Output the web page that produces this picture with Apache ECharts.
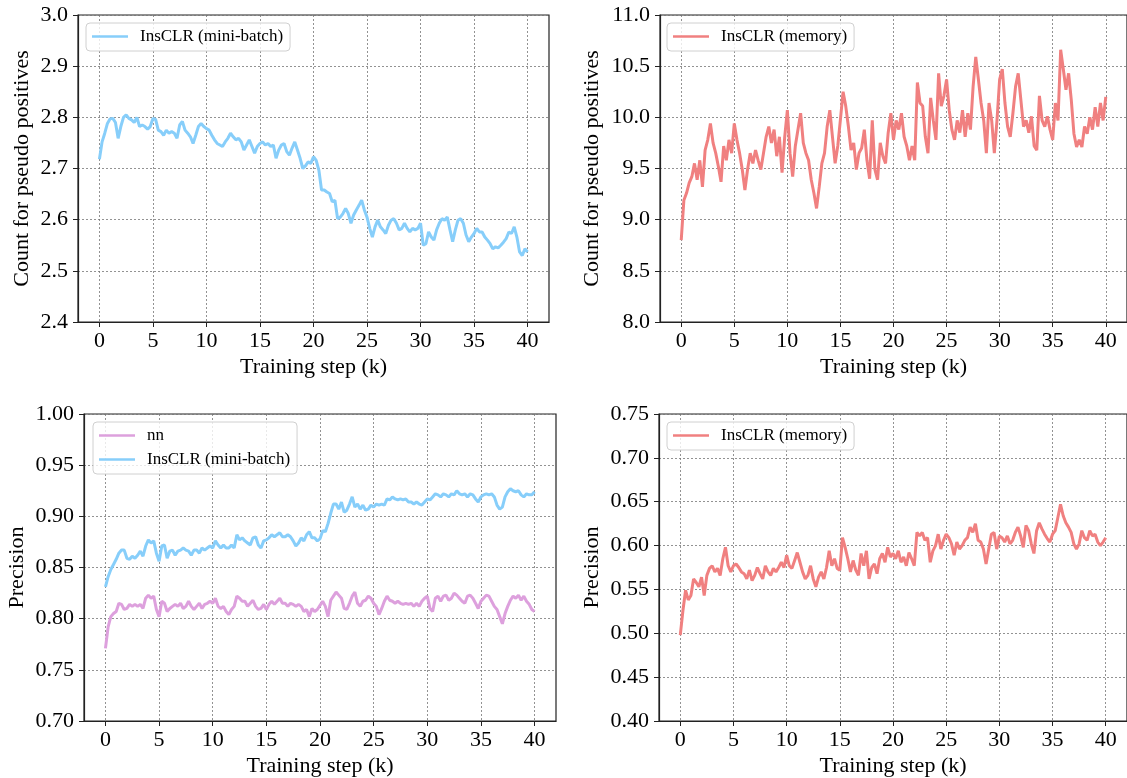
<!DOCTYPE html>
<html>
<head>
<meta charset="utf-8">
<title>InsCLR pseudo positives</title>
<style>
	body { margin: 0; background: #fff; }
	#statistics { width: 1127px; height: 778px; }
</style>
<script src="https://cdn.jsdelivr.net/npm/echarts@6.0.0/dist/echarts.min.js"></script>
</head>
<body>
<div id="statistics"></div>
<script>
	// training step grid: one reading every 0.25k, from 0 to 40k
	var stepSize = 0.25;
	var xTicks = [0, 5, 10, 15, 20, 25, 30, 35, 40];

	// top left: count for pseudo positives, mini-batch
	var countBatch = [
		2.718, 2.752, 2.769, 2.788, 2.797, 2.798, 2.790, 2.759,
		2.782, 2.800, 2.805, 2.798, 2.795, 2.790, 2.800, 2.782,
		2.785, 2.782, 2.777, 2.782, 2.798, 2.796, 2.775, 2.772,
		2.765, 2.775, 2.769, 2.772, 2.769, 2.759, 2.785, 2.792,
		2.775, 2.769, 2.762, 2.749, 2.765, 2.782, 2.788, 2.782,
		2.778, 2.775, 2.765, 2.756, 2.749, 2.746, 2.743, 2.752,
		2.759, 2.769, 2.762, 2.756, 2.759, 2.752, 2.736, 2.746,
		2.756, 2.743, 2.730, 2.743, 2.749, 2.752, 2.746, 2.749,
		2.743, 2.746, 2.720, 2.736, 2.746, 2.749, 2.733, 2.726,
		2.740, 2.752, 2.736, 2.720, 2.700, 2.705, 2.713, 2.710,
		2.723, 2.716, 2.697, 2.658, 2.658, 2.654, 2.651, 2.635,
		2.638, 2.602, 2.605, 2.612, 2.622, 2.612, 2.593, 2.609,
		2.619, 2.628, 2.638, 2.619, 2.605, 2.583, 2.566, 2.586,
		2.599, 2.586, 2.580, 2.573, 2.589, 2.599, 2.602, 2.593,
		2.580, 2.583, 2.593, 2.583, 2.576, 2.583, 2.580, 2.583,
		2.593, 2.550, 2.553, 2.576, 2.566, 2.560, 2.580, 2.593,
		2.602, 2.599, 2.605, 2.580, 2.557, 2.580, 2.599, 2.602,
		2.593, 2.570, 2.557, 2.566, 2.573, 2.583, 2.576, 2.576,
		2.566, 2.560, 2.553, 2.543, 2.547, 2.545, 2.550, 2.556,
		2.563, 2.576, 2.573, 2.586, 2.566, 2.537, 2.530, 2.543,
		2.537
	];

	// top right: count for pseudo positives, memory
	var countMemory = [
		8.80, 9.19, 9.26, 9.36, 9.42, 9.55, 9.39, 9.58,
		9.32, 9.68, 9.78, 9.94, 9.75, 9.65, 9.52, 9.37,
		9.72, 9.58, 9.78, 9.65, 9.94, 9.78, 9.65, 9.49,
		9.29, 9.49, 9.65, 9.55, 9.68, 9.58, 9.49, 9.65,
		9.81, 9.91, 9.75, 9.88, 9.62, 9.81, 9.46, 9.81,
		10.07, 9.65, 9.42, 9.72, 9.88, 10.04, 9.75, 9.65,
		9.58, 9.39, 9.26, 9.11, 9.32, 9.55, 9.65, 9.91,
		10.07, 9.81, 9.55, 9.72, 9.98, 10.25, 10.11, 9.91,
		9.68, 9.75, 9.49, 9.65, 9.70, 9.88, 9.58, 9.40,
		9.97, 9.49, 9.39, 9.75, 9.62, 9.55, 9.85, 10.04,
		9.78, 9.97, 9.88, 10.04, 9.81, 9.72, 9.58, 9.72,
		9.58, 10.34, 10.14, 10.11, 9.81, 9.65, 10.19, 9.97,
		9.78, 10.43, 10.11, 10.21, 10.37, 10.07, 9.88, 9.78,
		9.97, 9.85, 10.07, 9.81, 10.04, 9.88, 10.30, 10.59,
		10.37, 10.14, 9.97, 9.65, 10.14, 9.97, 9.65, 9.97,
		10.37, 10.47, 10.14, 9.91, 9.81, 10.04, 10.30, 10.43,
		10.17, 9.91, 9.97, 9.85, 10.01, 9.72, 9.68, 10.21,
		9.97, 9.91, 10.01, 9.88, 9.78, 10.14, 9.97, 10.66,
		10.47, 10.27, 10.43, 10.17, 9.84, 9.71, 9.78, 9.71,
		9.91, 9.84, 10.00, 9.88, 10.10, 9.91, 10.14, 9.97,
		10.20
	];

	// bottom left: precision, nn
	var precNN = [
		0.771, 0.792, 0.802, 0.805, 0.807, 0.815, 0.814, 0.809,
		0.810, 0.814, 0.812, 0.814, 0.812, 0.814, 0.810, 0.820,
		0.823, 0.820, 0.822, 0.809, 0.802, 0.817, 0.815, 0.807,
		0.810, 0.812, 0.814, 0.812, 0.815, 0.810, 0.812, 0.817,
		0.812, 0.809, 0.812, 0.815, 0.810, 0.814, 0.815, 0.817,
		0.815, 0.820, 0.812, 0.810, 0.812, 0.807, 0.804, 0.809,
		0.812, 0.822, 0.820, 0.817, 0.817, 0.812, 0.815, 0.818,
		0.812, 0.809, 0.810, 0.814, 0.809, 0.814, 0.817, 0.814,
		0.817, 0.820, 0.815, 0.815, 0.812, 0.815, 0.814, 0.812,
		0.814, 0.812, 0.807, 0.809, 0.802, 0.810, 0.807, 0.809,
		0.813, 0.817, 0.812, 0.802, 0.818, 0.822, 0.826, 0.823,
		0.820, 0.810, 0.809, 0.815, 0.822, 0.826, 0.815, 0.812,
		0.817, 0.818, 0.822, 0.820, 0.815, 0.812, 0.804, 0.810,
		0.817, 0.822, 0.818, 0.817, 0.815, 0.817, 0.815, 0.814,
		0.815, 0.814, 0.815, 0.812, 0.815, 0.812, 0.817, 0.820,
		0.822, 0.810, 0.807, 0.820, 0.822, 0.817, 0.822, 0.823,
		0.818, 0.820, 0.825, 0.823, 0.820, 0.817, 0.815, 0.822,
		0.823, 0.820, 0.815, 0.810, 0.817, 0.820, 0.823, 0.822,
		0.817, 0.812, 0.809, 0.802, 0.795, 0.805, 0.812, 0.818,
		0.822, 0.820, 0.823, 0.818, 0.822, 0.817, 0.814, 0.809,
		0.807
	];

	// bottom left: precision, mini-batch
	var precBatch = [
		0.831, 0.841, 0.848, 0.853, 0.858, 0.864, 0.867, 0.867,
		0.859, 0.858, 0.861, 0.859, 0.862, 0.866, 0.861, 0.871,
		0.877, 0.874, 0.876, 0.864, 0.856, 0.871, 0.872, 0.859,
		0.866, 0.867, 0.862, 0.866, 0.867, 0.869, 0.867, 0.866,
		0.862, 0.867, 0.867, 0.864, 0.869, 0.867, 0.869, 0.871,
		0.869, 0.876, 0.872, 0.869, 0.872, 0.869, 0.869, 0.872,
		0.869, 0.882, 0.877, 0.879, 0.876, 0.874, 0.872, 0.879,
		0.880, 0.872, 0.869, 0.876, 0.877, 0.879, 0.882, 0.880,
		0.882, 0.884, 0.880, 0.880, 0.882, 0.880, 0.876, 0.871,
		0.874, 0.879, 0.876, 0.882, 0.885, 0.879, 0.879, 0.876,
		0.878, 0.886, 0.885, 0.893, 0.903, 0.912, 0.912, 0.907,
		0.914, 0.904, 0.906, 0.912, 0.919, 0.909, 0.912, 0.907,
		0.911, 0.906, 0.907, 0.911, 0.909, 0.912, 0.911, 0.912,
		0.911, 0.917, 0.916, 0.919, 0.917, 0.916, 0.917, 0.916,
		0.917, 0.914, 0.914, 0.912, 0.914, 0.912, 0.911, 0.914,
		0.917, 0.916, 0.919, 0.922, 0.921, 0.919, 0.922, 0.921,
		0.919, 0.922, 0.921, 0.925, 0.922, 0.921, 0.922, 0.919,
		0.922, 0.921, 0.917, 0.914, 0.919, 0.921, 0.922, 0.921,
		0.922, 0.919, 0.911, 0.907, 0.909, 0.919, 0.924, 0.927,
		0.925, 0.924, 0.925, 0.921, 0.919, 0.922, 0.921, 0.921,
		0.924
	];

	// bottom right: precision, memory
	var precMemory = [
		0.498, 0.526, 0.549, 0.538, 0.543, 0.562, 0.558, 0.553,
		0.564, 0.543, 0.566, 0.574, 0.577, 0.570, 0.574, 0.566,
		0.585, 0.598, 0.577, 0.570, 0.577, 0.579, 0.575, 0.570,
		0.568, 0.562, 0.572, 0.560, 0.566, 0.575, 0.568, 0.562,
		0.577, 0.570, 0.566, 0.574, 0.570, 0.575, 0.581, 0.575,
		0.589, 0.577, 0.574, 0.583, 0.592, 0.581, 0.570, 0.562,
		0.566, 0.577, 0.562, 0.553, 0.564, 0.570, 0.562, 0.575,
		0.594, 0.577, 0.585, 0.574, 0.572, 0.609, 0.598, 0.585,
		0.570, 0.583, 0.572, 0.566, 0.591, 0.577, 0.594, 0.562,
		0.575, 0.579, 0.568, 0.585, 0.591, 0.581, 0.598, 0.587,
		0.591, 0.585, 0.594, 0.581, 0.587, 0.577, 0.592, 0.585,
		0.577, 0.615, 0.611, 0.615, 0.606, 0.609, 0.581, 0.594,
		0.600, 0.613, 0.596, 0.606, 0.613, 0.609, 0.602, 0.589,
		0.604, 0.596, 0.600, 0.606, 0.609, 0.621, 0.615, 0.625,
		0.606, 0.604, 0.596, 0.579, 0.596, 0.613, 0.615, 0.596,
		0.611, 0.609, 0.604, 0.611, 0.602, 0.606, 0.615, 0.621,
		0.611, 0.598, 0.623, 0.617, 0.602, 0.591, 0.617, 0.626,
		0.619, 0.613, 0.608, 0.604, 0.613, 0.617, 0.632, 0.647,
		0.634, 0.626, 0.621, 0.615, 0.602, 0.596, 0.602, 0.617,
		0.609, 0.606, 0.617, 0.611, 0.613, 0.604, 0.600, 0.604,
		0.609
	];

	var FONT = '"Liberation Serif", "DejaVu Serif", serif';
	var BLUE = '#87CEFA', RED = '#F08080', PINK = '#DDA0DD';

	function pairs(arr) {
		return arr.map(function (v, i) { return [i * stepSize, v]; });
	}

	function xAxisAt(idx) {
		return {
			type: 'value', gridIndex: idx, min: -2, max: 42,
			name: 'Training step (k)', nameLocation: 'middle', nameGap: 34,
			nameTextStyle: {fontFamily: FONT, fontSize: 22, color: '#000'},
			axisLine: {show: true, onZero: false, lineStyle: {color: '#222', width: 1.2}},
			axisTick: {show: true, customValues: xTicks, length: 5, lineStyle: {color: '#222'}},
			axisLabel: {customValues: xTicks, margin: 8, fontFamily: FONT, fontSize: 22, color: '#000'},
			splitLine: {show: true, lineStyle: {color: '#777', width: 0.8, type: [2, 2]}}
		};
	}

	function yAxisAt(idx, name, min, max, step, digits, gap) {
		return {
			type: 'value', gridIndex: idx, min: min, max: max, interval: step,
			name: name, nameLocation: 'middle', nameGap: gap,
			nameTextStyle: {fontFamily: FONT, fontSize: 22, color: '#000'},
			axisLine: {show: true, onZero: false, lineStyle: {color: '#222', width: 1.2}},
			axisTick: {show: true, length: 5, lineStyle: {color: '#222'}},
			axisLabel: {
				margin: 10, fontFamily: FONT, fontSize: 22, color: '#000',
				formatter: function (v) { return v.toFixed(digits); }
			},
			splitLine: {show: true, lineStyle: {color: '#777', width: 0.8, type: [2, 2]}}
		};
	}

	function legendAt(left, top, names) {
		return {
			left: left, top: top, orient: 'vertical', data: names,
			icon: 'rect', itemWidth: 36, itemHeight: 2.5, itemGap: 7,
			padding: [5, 7, 6, 6],
			borderColor: '#d0d0d0', borderWidth: 1, borderRadius: 4,
			backgroundColor: 'rgba(255,255,255,0.8)',
			selectedMode: false,
			textStyle: {fontFamily: FONT, fontSize: 17, color: '#000', padding: [0, 0, 0, 7]}
		};
	}

	function lineSeries(name, color, idx, arr) {
		return {
			name: name, type: 'line', xAxisIndex: idx, yAxisIndex: idx,
			showSymbol: false, symbol: 'none', data: pairs(arr),
			lineStyle: {color: color, width: 3}, itemStyle: {color: color}
		};
	}

	var myChart = echarts.init(document.getElementById('statistics'), null, {renderer: 'canvas'});
	var gridBox = {show: true, borderColor: '#222', borderWidth: 1.2, backgroundColor: 'transparent'};
	option = {
		animation: false,
		backgroundColor: '#fff',
		grid: [
			Object.assign({left: 78, top: 15, width: 471, height: 307}, gridBox),
			Object.assign({left: 660, top: 15, width: 471, height: 307}, gridBox),
			Object.assign({left: 84, top: 414, width: 472, height: 307}, gridBox),
			Object.assign({left: 659, top: 414, width: 472, height: 307}, gridBox)
		],
		xAxis: [xAxisAt(0), xAxisAt(1), xAxisAt(2), xAxisAt(3)],
		yAxis: [
			yAxisAt(0, 'Count for pseudo positives', 2.4, 3.0, 0.1, 1, 45),
			yAxisAt(1, 'Count for pseudo positives', 8.0, 11.0, 0.5, 1, 57),
			yAxisAt(2, 'Precision', 0.70, 1.00, 0.05, 2, 56),
			yAxisAt(3, 'Precision', 0.40, 0.75, 0.05, 2, 56)
		],
		legend: [
			legendAt(86, 23, ['InsCLR (mini-batch)']),
			legendAt(667, 23, ['InsCLR (memory)']),
			legendAt(93, 422, ['nn', 'InsCLR (mini-batch)']),
			legendAt(667, 422, ['InsCLR (memory)'])
		],
		series: [
			lineSeries('InsCLR (mini-batch)', BLUE, 0, countBatch),
			lineSeries('InsCLR (memory)', RED, 1, countMemory),
			lineSeries('nn', PINK, 2, precNN),
			lineSeries('InsCLR (mini-batch)', BLUE, 2, precBatch),
			lineSeries('InsCLR (memory)', RED, 3, precMemory)
		]
	};

	myChart.setOption(option);
</script>
</body>
</html>
